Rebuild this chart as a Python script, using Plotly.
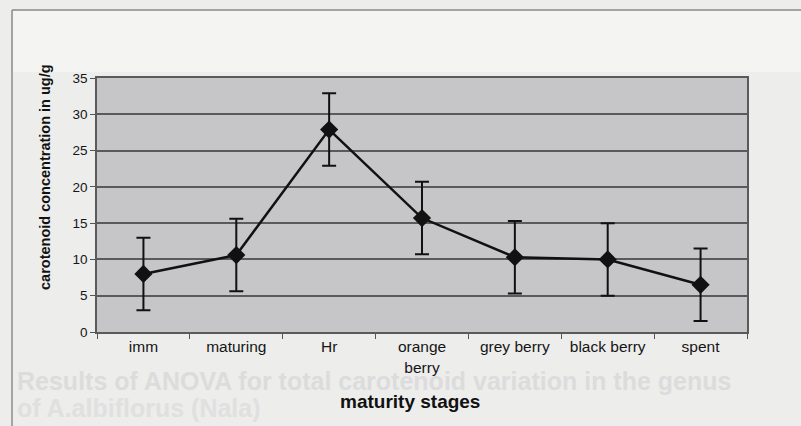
import plotly.graph_objects as go

# Carotenoid content across berry maturity stages
stages = ["imm", "maturing", "Hr", "orange<br>berry", "grey berry", "black berry", "spent"]
carotenoid = [8.0, 10.6, 27.9, 15.7, 10.3, 10.0, 6.5]
error = [5.0, 5.0, 5.0, 5.0, 5.0, 5.0, 5.0]
y_ticks = [0, 5, 10, 15, 20, 25, 30, 35]

FONT = "Liberation Sans, Arial, sans-serif"

# plot-area geometry in pixels (used for placing page decorations)
W, H = 801, 426
ML, MR, MT, MB = 97, 54, 78, 94
PW, PH = W - ML - MR, H - MT - MB


def px(x):
    return (x - ML) / PW


def py(y):
    return (H - MB - y) / PH


fig = go.Figure()
fig.add_trace(go.Scatter(
    x=stages,
    y=carotenoid,
    mode="lines+markers",
    line=dict(color="#111111", width=2.5),
    marker=dict(symbol="diamond", size=14, color="#111111"),
    error_y=dict(type="data", array=error, visible=True,
                 color="#111111", thickness=2, width=7),
    showlegend=False,
))

fig.update_layout(
    width=W, height=H,
    margin=dict(l=ML, r=MR, t=MT, b=MB),
    paper_bgcolor="#ededec",
    plot_bgcolor="#c6c6c8",
    font=dict(family=FONT, color="#151515"),
    xaxis=dict(
        type="category",
        tickson="boundaries",
        ticks="outside", ticklen=5, tickcolor="#555555",
        showgrid=False,
        showline=True, linecolor="#5a5a5a", linewidth=1.5, mirror=True,
        tickfont=dict(size=15.5, family=FONT, color="#151515"),
        range=[-0.5, 6.5],
    ),
    yaxis=dict(
        range=[0, 35],
        tickvals=y_ticks,
        ticks="outside", ticklen=5, tickcolor="#555555",
        showgrid=True, gridcolor="#5a5a5a", gridwidth=1.5,
        showline=True, linecolor="#5a5a5a", linewidth=1.5, mirror=True,
        zeroline=False,
        tickfont=dict(size=13.5, family=FONT, color="#151515"),
    ),
    shapes=[
        # page frame around the chart object
        dict(type="line", xref="paper", yref="paper",
             x0=px(12), x1=px(801), y0=py(10), y1=py(10),
             line=dict(color="#8a8a8a", width=1.5)),
        dict(type="line", xref="paper", yref="paper",
             x0=px(12), x1=px(12), y0=py(10), y1=py(426),
             line=dict(color="#8a8a8a", width=1.5)),
        # lighter area above the plot
        dict(type="rect", xref="paper", yref="paper", layer="below",
             x0=px(13), x1=px(801), y0=py(11), y1=py(72),
             fillcolor="#f4f4f3", line=dict(width=0)),
    ],
    annotations=[
        # faint text showing through the page
        dict(text="<b>Results of ANOVA for total carotenoid variation in the genus</b>",
             xref="paper", yref="paper", x=px(15), y=py(381),
             xanchor="left", yanchor="middle", showarrow=False,
             font=dict(size=25, family=FONT, color="#dcdcdc")),
        dict(text="<b>of A.albiflorus (Nala)</b>",
             xref="paper", yref="paper", x=px(15), y=py(408),
             xanchor="left", yanchor="middle", showarrow=False,
             font=dict(size=25, family=FONT, color="#e0e0e0")),
        # axis titles
        dict(text="<b>maturity stages</b>",
             xref="paper", yref="paper", x=px(410), y=py(401),
             xanchor="center", yanchor="middle", showarrow=False,
             font=dict(size=19, family=FONT, color="#111111")),
        dict(text="<b>carotenoid concentration in ug/g</b>",
             xref="paper", yref="paper", x=px(45), y=py(177),
             xanchor="center", yanchor="middle", showarrow=False,
             textangle=-90,
             font=dict(size=14.5, family=FONT, color="#111111")),
    ],
)

fig.write_html("out.html")
